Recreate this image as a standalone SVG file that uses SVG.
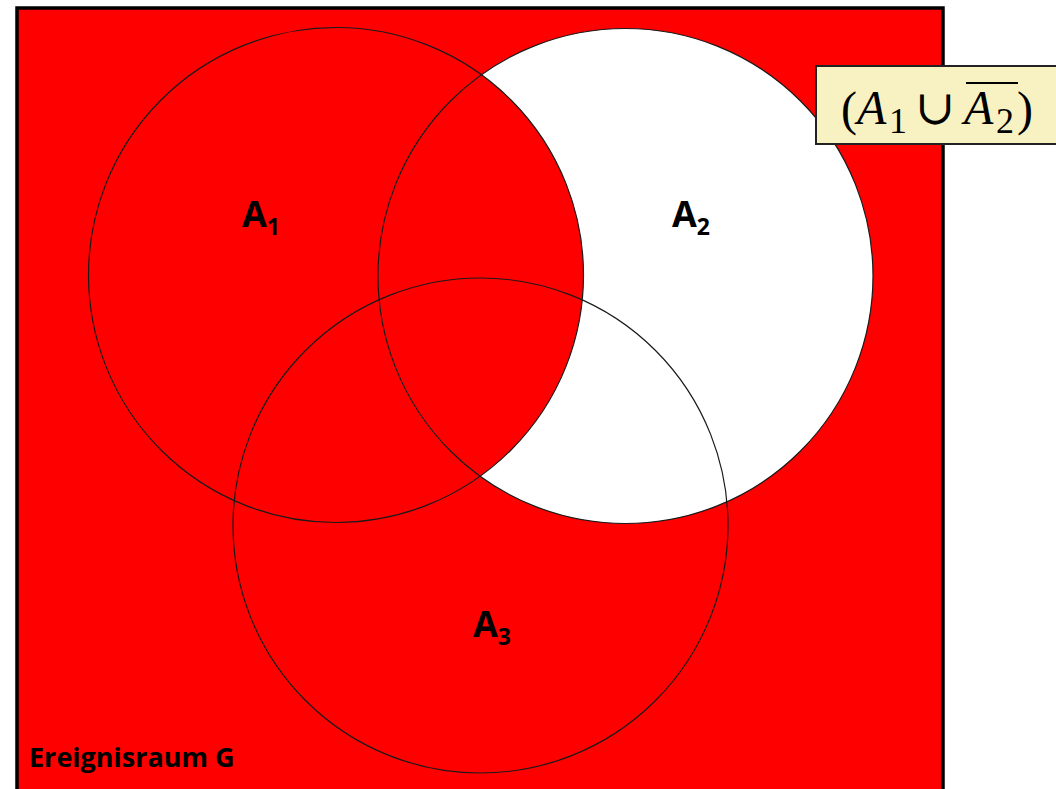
<svg xmlns="http://www.w3.org/2000/svg" width="1056" height="789" viewBox="0 0 1056 789">
<style>
.lbl{font-family:"Open Sans","Liberation Sans",sans-serif;font-weight:bold;fill:#000}
.ring{fill:none;stroke:#1a1a1a;stroke-width:1.2}
.m{font-family:"Liberation Serif","DejaVu Serif",serif;fill:#000;font-size:48px}
.it{font-style:italic}
.sub{font-size:36px}
</style>
<defs>
<clipPath id="a2clip"><circle cx="625.5" cy="276" r="247.5"/></clipPath>
</defs>
<rect x="0" y="0" width="1056" height="789" fill="#fff"/>
<g id="space">
<rect x="17" y="8" width="926" height="790" fill="#ff0000" stroke="#000" stroke-width="3.5"/>
</g>
<g id="fill">
<circle cx="625.5" cy="276" r="247.5" fill="#fff"/>
<circle cx="336" cy="275" r="247.5" fill="#ff0000" clip-path="url(#a2clip)"/>
</g>
<g id="A1"><circle class="ring" cx="336" cy="275" r="247.5"/>
<text class="lbl" x="242" y="227" font-size="36">A<tspan font-size="23" dy="8">1</tspan></text></g>
<g id="A2"><circle class="ring" cx="625.5" cy="276" r="247.5"/>
<text class="lbl" x="672" y="227" font-size="36">A<tspan font-size="23" dy="8">2</tspan></text></g>
<g id="A3"><circle class="ring" cx="480.5" cy="525.5" r="247.5"/>
<text class="lbl" x="473" y="637" font-size="36">A<tspan font-size="23" dy="8">3</tspan></text></g>
<g id="G"><text class="lbl" x="29" y="767" font-size="27">Ereignisraum G</text></g>
<g id="formula">
<rect x="816" y="66" width="245" height="78" fill="#f8f1c1" stroke="#222" stroke-width="2"/>
<text class="m" x="841" y="125">(</text>
<text class="m it" x="857" y="124">A</text>
<text class="m sub" x="889" y="133">1</text>
<text class="m" x="915" y="124">∪</text>
<text class="m it" x="964" y="124">A</text>
<text class="m sub" x="996" y="133">2</text>
<text class="m" x="1017" y="125">)</text>
<line x1="966" y1="83" x2="1018" y2="83" stroke="#000" stroke-width="2"/>
</g>
</svg>
